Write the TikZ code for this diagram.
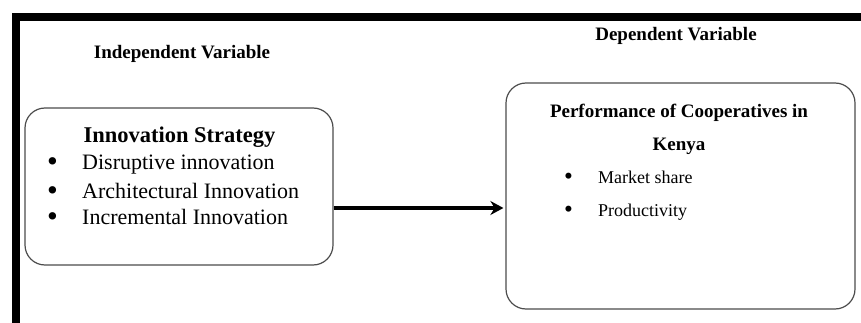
\documentclass[tikz,border=0pt]{standalone}
\usepackage{fontspec}
\usepackage{graphicx}
\setmainfont{Liberation Serif}
\usetikzlibrary{shapes, arrows.meta}
\newcommand{\itembullet}[1]{\makebox[#1][l]{\raisebox{-0.08em}{\scalebox{1.4}{\textbullet}}}}
\tikzstyle{frame} = [line width=8pt, line join=miter]
\tikzstyle{box} = [rectangle, rounded corners=20pt, draw=black!70, line width=1.2pt]
\tikzstyle{head} = [font=\bfseries\fontsize{19}{23}\selectfont, text centered]
\tikzstyle{title} = [font=\bfseries\fontsize{22.5}{27}\selectfont, text centered]
\tikzstyle{litem} = [anchor=west, inner sep=0pt, font=\fontsize{22}{26}\selectfont]
\tikzstyle{ritem} = [anchor=west, inner sep=0pt, font=\fontsize{18}{22}\selectfont]
\tikzstyle{arrow} = [line width=4pt, -{Stealth[length=13pt, width=14pt]}, shorten >=2pt]

\begin{document}
\begin{tikzpicture}[x=1pt, y=-1pt]
\useasboundingbox (0,0) rectangle (861,323);

%Frame
\coordinate (fbl) at (15.5,330);
\coordinate (ftl) at (15.5,17);
\coordinate (ftr) at (870,17);
\draw [frame] (fbl) -- (ftl) -- (ftr);

%Headings
\node (indep) [head] at (182,54) {Independent Variable};
\node (dep) [head] at (676,36) {Dependent Variable};

%Independent Variable
\node (is) [box, minimum width=308pt, minimum height=157pt] at (179,186.5) {};
\node (istitle) [title] at (179.5,137) {Innovation Strategy};
\node (disrupt) [litem] at (47,165) {\itembullet{35pt}Disruptive innovation};
\node (arch) [litem] at (47,191.5) {\itembullet{35pt}Architectural Innovation};
\node (incr) [litem] at (47,218) {\itembullet{35pt}Incremental Innovation};

%Dependent Variable
\node (perf) [box, minimum width=349pt, minimum height=226pt] at (680.5,196) {};
\node (perftitle) [head, align=center, font=\bfseries\fontsize{19}{33}\selectfont] at (679,129) {Performance of Cooperatives in\\Kenya};
\node (mshare) [ritem] at (564,178) {\itembullet{34pt}Market share};
\node (prod) [ritem] at (564,212) {\itembullet{34pt}Productivity};

%Independent to Dependent
\draw [arrow] ([yshift=-21.5pt]is.east) -- ([yshift=-21.5pt]is.east -| perf.west);
\end{tikzpicture}
\end{document}
